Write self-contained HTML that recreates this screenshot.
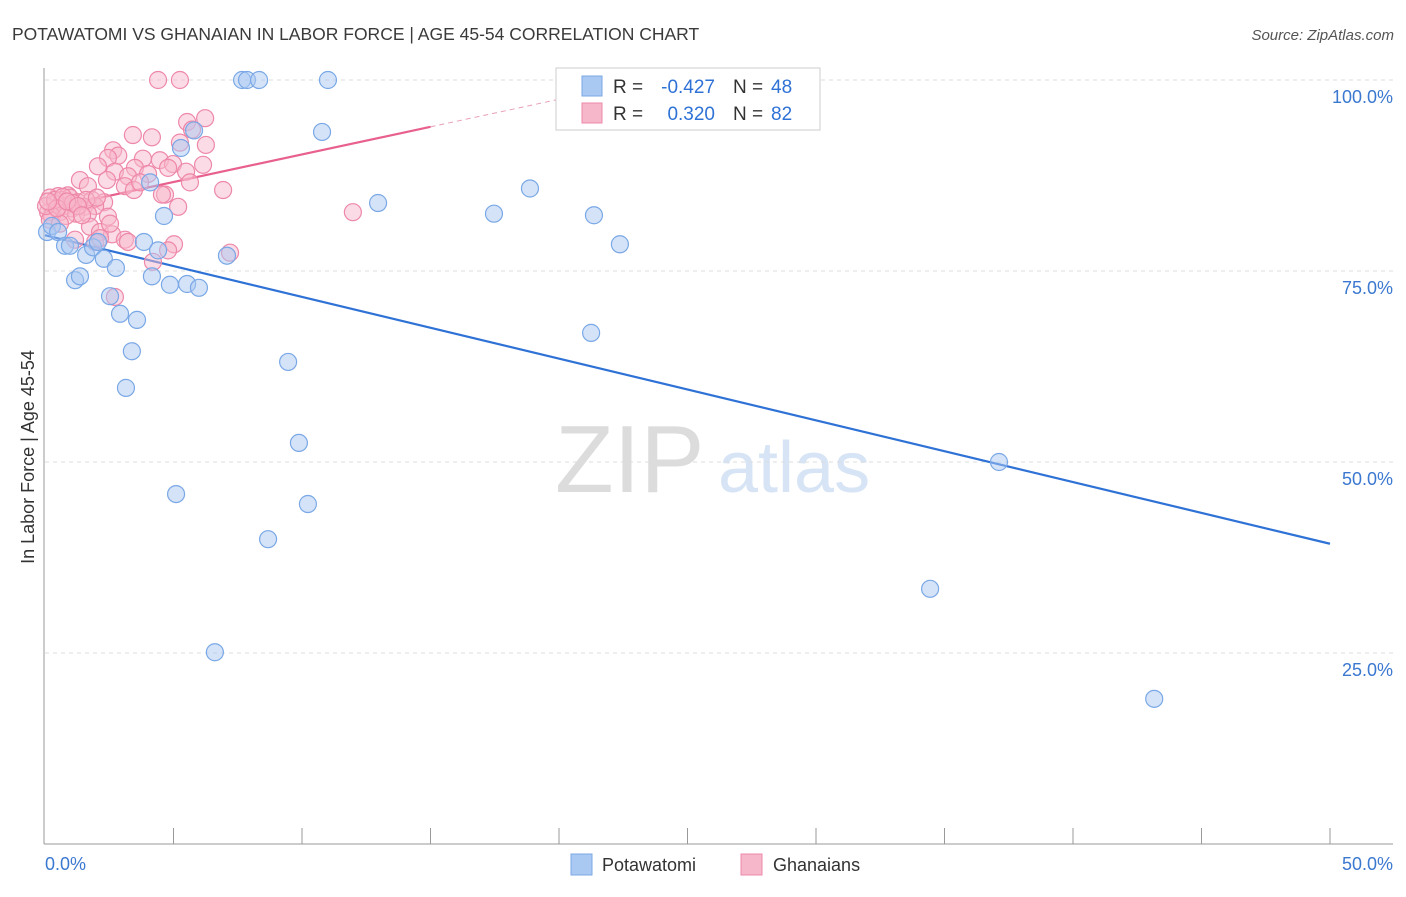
<!DOCTYPE html>
<html><head><meta charset="utf-8">
<style>
body{margin:0;background:#fff;font-family:"Liberation Sans",sans-serif;}
svg text{font-family:"Liberation Sans",sans-serif;}
</style></head>
<body>
<svg width="1406" height="892" id="chart">
<text x="12" y="40" font-size="17.5" fill="#3a3a3a">POTAWATOMI VS GHANAIAN IN LABOR FORCE | AGE 45-54 CORRELATION CHART</text>
<text x="1394" y="40" font-size="15" fill="#555" text-anchor="end" font-style="italic">Source: ZipAtlas.com</text>
<g>
<text x="555" y="492" font-size="96" fill="#dcdcdc" font-family="Liberation Serif,serif">ZIP</text>
<text x="718" y="492" font-size="72" fill="#d6e4f5">atlas</text>
</g>
<g id="grid"></g>
<g id="axes"></g>
<g id="trends"></g>
<g id="pts"></g>
<text transform="translate(34,457) rotate(-90)" font-size="18" fill="#333" text-anchor="middle">In Labor Force | Age 45-54</text>
<g>
<rect x="556" y="68" width="264" height="62" fill="#fff" stroke="#ccc"/>
<rect x="582" y="76" width="20" height="20" fill="#a9c8f2" stroke="#7aa8e6"/>
<rect x="582" y="103" width="20" height="20" fill="#f7b7cb" stroke="#ee88a9"/>
<text x="613" y="93" font-size="19" fill="#333">R =</text>
<text x="715" y="93" font-size="19" fill="#2f72d6" text-anchor="end">-0.427</text>
<text x="733" y="93" font-size="19" fill="#333">N =</text>
<text x="771" y="93" font-size="19" fill="#2f72d6">48</text>
<text x="613" y="120" font-size="19" fill="#333">R =</text>
<text x="715" y="120" font-size="19" fill="#2f72d6" text-anchor="end">0.320</text>
<text x="733" y="120" font-size="19" fill="#333">N =</text>
<text x="771" y="120" font-size="19" fill="#2f72d6">82</text>
</g>
<g>
<rect x="571" y="854" width="21" height="21" fill="#a9c8f2" stroke="#7aa8e6"/>
<text x="602" y="871" font-size="18" fill="#333">Potawatomi</text>
<rect x="741" y="854" width="21" height="21" fill="#f7b7cb" stroke="#ee88a9"/>
<text x="773" y="871" font-size="18" fill="#333">Ghanaians</text>
</g>
</svg>
<script>
const yTicks=[25,50,75,100];
const yTickLabels=["25.0%","50.0%","75.0%","100.0%"];
const xTickLabels=["0.0%","50.0%"];
const blueX=[0.08,0.27,0.51,0.78,0.97,1.17,1.36,1.60,1.87,2.06,2.29,2.53,2.76,2.92,3.15,3.38,3.58,3.85,4.09,4.16,4.40,4.63,4.86,5.10,5.29,5.53,5.80,5.99,6.61,7.08,7.67,7.86,8.33,8.68,9.46,9.88,10.23,10.78,11.01,12.96,17.47,18.87,21.25,21.36,22.37,37.12,34.44,43.16];
const blueY=[80.1,80.9,80.1,78.3,78.3,73.8,74.3,77.1,78.1,78.8,76.6,71.7,75.4,69.4,59.7,64.5,68.6,78.8,86.6,74.3,77.7,82.2,73.2,45.8,91.1,73.3,93.4,72.8,25.1,77.0,100,100,100,39.9,63.1,52.5,44.5,93.2,100,83.9,82.5,85.8,66.9,82.3,78.5,50.0,33.4,19.0];
const pinkX=[4.40,5.25,6.23,5.53,3.42,4.16,5.25,6.26,2.65,2.85,2.45,3.81,4.47,4.98,6.15,2.06,3.50,2.72,5.49,3.23,4.01,2.41,1.36,3.11,1.67,3.46,6.93,4.67,0.51,0.89,0.19,0.66,0.97,1.28,1.83,2.30,0.39,0.78,1.05,1.52,1.95,0.12,0.58,1.21,1.67,0.27,0.82,2.45,5.18,11.98,0.19,1.75,0.58,2.14,2.61,3.11,1.17,1.95,3.23,2.14,5.02,4.79,7.20,4.20,2.72,0.04,0.39,0.70,1.09,1.60,2.02,0.47,0.86,1.28,0.12,1.44,2.53,3.70,4.79,5.72,4.55,5.64];
const pinkY=[100,100,95.0,94.5,92.8,92.5,91.8,91.5,90.8,90.1,89.8,89.7,89.5,89.0,88.9,88.7,88.5,88.0,88.0,87.4,87.7,86.9,86.9,86.1,86.1,85.6,85.6,85.0,84.8,84.9,84.6,84.3,84.6,84.0,84.3,84.0,83.8,83.5,83.2,83.4,83.5,82.7,82.7,82.5,82.5,82.2,82.2,82.1,83.4,82.7,81.7,80.8,81.2,80.1,79.8,79.1,79.1,78.8,78.8,79.3,78.5,77.7,77.4,76.2,71.6,83.5,84.3,84.7,83.9,84.3,84.6,83.2,84.1,83.5,84.1,82.3,81.2,86.6,88.5,93.5,85.0,86.6];
const NS="http://www.w3.org/2000/svg";
const X=v=>45+v/50*1285, Y=v=>844-v/100*764;
function mk(tag,attrs,parent){const e=document.createElementNS(NS,tag);for(const k in attrs)e.setAttribute(k,attrs[k]);document.getElementById(parent).appendChild(e);return e;}
yTicks.forEach((t,i)=>{
 const g=mk('line',{x1:45,x2:1393,y1:Y(t),y2:Y(t),stroke:'#ddd','stroke-dasharray':'4,4'},'grid');
 
 
 const l=mk('text',{x:1393,y:Y(t)+23,'font-size':18,fill:'#3b78d0','text-anchor':'end'},'axes');
 l.textContent=yTickLabels[i];
 
 
});
let a=mk('line',{x1:44,x2:44,y1:68,y2:844,stroke:'#999'},'axes');


a=mk('line',{x1:44,x2:1393,y1:844,y2:844,stroke:'#999'},'axes');


for(let i=1;i<=10;i++){const t=mk('line',{x1:X(i*5),x2:X(i*5),y1:828,y2:844,stroke:'#999'},'axes');
 
 }
[[0,'start',45],[1,'end',1393]].forEach(([i,an,x])=>{const t=mk('text',{x:x,y:870,'font-size':18,fill:'#3b78d0','text-anchor':an},'axes');t.textContent=xTickLabels[i];
 
 });
function fit(xs,ys){const n=xs.length;let mx=0,my=0;for(let i=0;i<n;i++){mx+=xs[i];my+=ys[i];}mx/=n;my/=n;let sxy=0,sxx=0;for(let i=0;i<n;i++){sxy+=(xs[i]-mx)*(ys[i]-my);sxx+=(xs[i]-mx)**2;}const b=sxy/sxx;return [b,my-b*mx];}
function dots(xs,ys,fill,stroke,name){xs.forEach((x,i)=>{const c=mk('circle',{cx:X(x),cy:Y(ys[i]),r:8.5,fill:fill,'fill-opacity':0.5,stroke:stroke,'stroke-width':1.2},'pts');
 
 });}
dots(pinkX,pinkY,'#f7b7cb','#ee88a9','ghanaian-point');
dots(blueX,blueY,'#a9c8f2','#7aa8e6','potawatomi-point');
let [b,c]=fit(blueX,blueY);
let ln=mk('line',{x1:X(0),y1:Y(c),x2:X(50),y2:Y(c+b*50),stroke:'#2f72d6','stroke-width':2.2},'trends');


[b,c]=fit(pinkX,pinkY);
ln=mk('line',{x1:X(0),y1:Y(c),x2:X(15),y2:Y(c+b*15),stroke:'#e8608d','stroke-width':2.2},'trends');


ln=mk('line',{x1:X(15),y1:Y(c+b*15),x2:X(20),y2:Y(c+b*20),stroke:'#e8a0b8','stroke-width':1,'stroke-dasharray':'5,4'},'trends');


</script>
</body></html>
